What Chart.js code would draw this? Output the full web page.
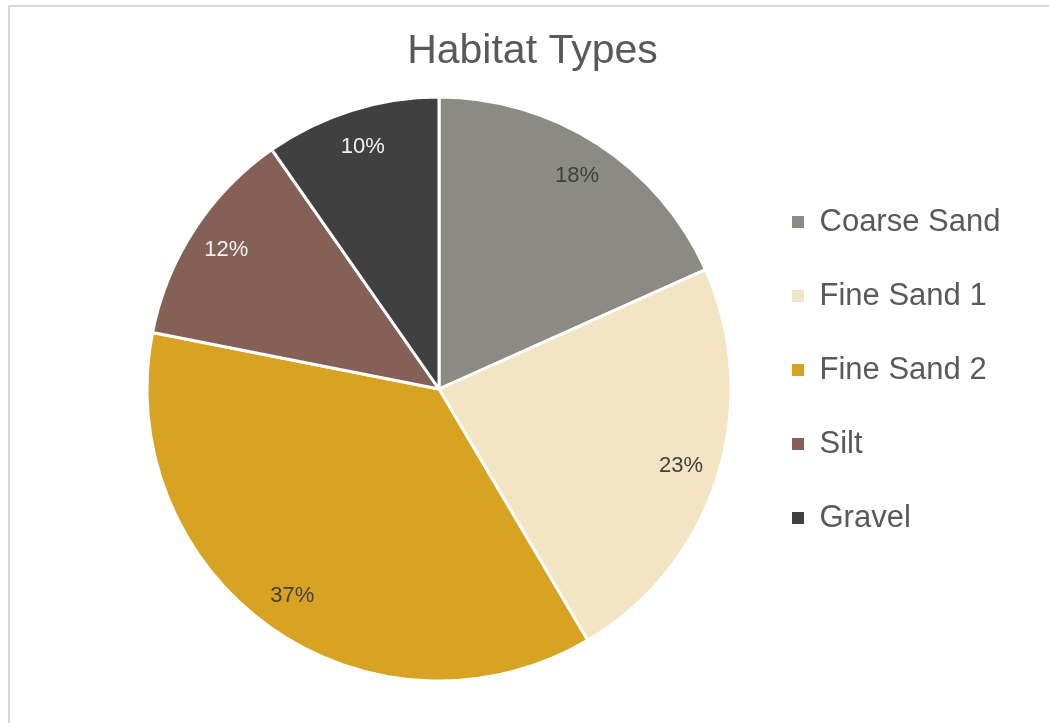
<!DOCTYPE html>
<html>
<head>
<meta charset="utf-8">
<script src="https://cdn.jsdelivr.net/npm/chart.js@4/dist/chart.umd.min.js"></script>
<style>
  html, body { margin: 0; padding: 0; background: #ffffff; overflow: hidden; }
  #frame { position: absolute; left: 8px; top: 5px; width: 1100px; height: 800px;
           border-left: 2px solid #d9d9d9; border-top: 2px solid #d9d9d9; box-sizing: border-box; }
  #c { position: absolute; left: 0; top: 0; }
</style>
</head>
<body>
<div id="frame"></div>
<canvas id="c" width="1049" height="723"></canvas>
<script>
const chartTitle = 'Habitat Types';
const categories = ['Coarse Sand', 'Fine Sand 1', 'Fine Sand 2', 'Silt', 'Gravel'];
const shares = [18.3, 23.2, 36.6, 12.2, 9.7];
const sliceColors = ['#8b8b84', '#f3e5c4', '#d8a222', '#846057', '#404040'];
const labelColors = ['#404040', '#404040', '#404040', '#f2f2f2', '#f2f2f2'];

const FONT = "'Liberation Sans', Arial, sans-serif";

const pctLabels = {
  id: 'pctLabels',
  afterDatasetsDraw(chart) {
    const ctx = chart.ctx;
    const meta = chart.getDatasetMeta(0);
    const data = chart.data.datasets[0].data;
    const total = data.reduce((a, b) => a + b, 0);
    ctx.save();
    ctx.font = '22px ' + FONT;
    ctx.textAlign = 'center';
    ctx.textBaseline = 'middle';
    meta.data.forEach((arc, i) => {
      const p = arc.getProps(['x', 'y', 'startAngle', 'endAngle', 'outerRadius'], true);
      const mid = (p.startAngle + p.endAngle) / 2;
      const r = p.outerRadius * 0.87;
      const x = p.x + Math.cos(mid) * r;
      const y = p.y + Math.sin(mid) * r;
      ctx.fillStyle = labelColors[i];
      ctx.fillText(Math.round(data[i] / total * 100) + '%', x, y);
    });
    ctx.restore();
  }
};

// let the legend's text run to the canvas edge instead of being clipped
const widenLegend = {
  id: 'widenLegend',
  afterLayout(chart) {
    const lg = chart.legend;
    if (lg) { lg.right = chart.width; lg.width = lg.right - lg.left; }
  }
};

new Chart(document.getElementById('c'), {
  type: 'pie',
  data: {
    labels: categories,
    datasets: [{
      data: shares,
      backgroundColor: sliceColors,
      borderColor: '#ffffff',
      borderWidth: 3
    }]
  },
  options: {
    responsive: false,
    animation: false,
    devicePixelRatio: 1,
    radius: 292,
    layout: { padding: { left: 129, right: 113, top: 0, bottom: 41 } },
    plugins: {
      title: {
        display: true,
        text: chartTitle,
        color: '#595959',
        font: { family: FONT, size: 41, weight: 'normal' },
        padding: { top: 27.5, bottom: 19.3 }
      },
      legend: {
        display: true,
        position: 'right',
        align: 'start',
        maxWidth: 187,
        title: { display: true, text: '', font: { size: 10 }, padding: { top: 151.5, bottom: 0 } },
        labels: {
          color: '#595959',
          font: { family: FONT, size: 31 },
          boxWidth: 12,
          boxHeight: 12,
          padding: 43,
          generateLabels(chart) {
            const items = Chart.overrides.pie.plugins.legend.labels.generateLabels(chart);
            items.forEach(it => { it.lineWidth = 0; it.strokeStyle = 'rgba(0,0,0,0)'; });
            return items;
          }
        }
      },
      tooltip: { enabled: false }
    }
  },
  plugins: [pctLabels, widenLegend]
});
</script>
</body>
</html>
